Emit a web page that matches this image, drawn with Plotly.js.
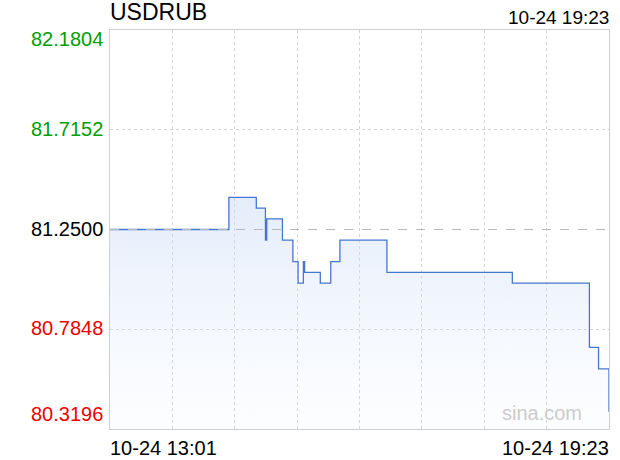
<!DOCTYPE html>
<html>
<head>
<meta charset="utf-8">
<script src="https://cdn.plot.ly/plotly-3.0.1.min.js"></script>
<style>html,body{margin:0;padding:0;background:#fff;}#chart{width:620px;height:460px;}</style>
</head>
<body>
<div id="chart"></div>
<script>
// ---- data ----
const symbol = 'USDRUB';
const dateStr = '2023-10-24';
const times = ['13:01','14:32','14:53','15:00','15:01','15:13','15:21','15:25','15:29','15:30','15:42','15:50','15:57','16:33','18:09','19:08','19:15','19:23'];
const values = [81.25,81.40,81.35,81.20,81.30,81.20,81.10,81.00,81.10,81.05,81.00,81.10,81.20,81.05,81.00,80.70,80.60,80.40];
const yTickVals = [82.1804, 81.7152, 81.2500, 80.7848, 80.3196];
const yTickLabels = ['82.1804', '81.7152', '81.2500', '80.7848', '80.3196'];
const baseValue = 81.25;
const xLabels = ['10-24 13:01', '10-24 19:23'];
const stampLabel = '10-24 19:23';
const watermark = 'sina.com';

// ---- build ----
const xs = times.map(t => dateStr + ' ' + t + ':00');
const xStart = new Date(xs[0].replace(' ', 'T')).getTime();
const xEnd = new Date(xs[xs.length - 1].replace(' ', 'T')).getTime();
function fmt(ms) {
  const d = new Date(ms);
  const p = n => String(n).padStart(2, '0');
  return d.getFullYear() + '-' + p(d.getMonth() + 1) + '-' + p(d.getDate()) + ' ' + p(d.getHours()) + ':' + p(d.getMinutes()) + ':' + p(d.getSeconds()) + '.' + String(d.getMilliseconds()).padStart(3, '0');
}
const xGrid = [];
for (let i = 1; i < 8; i++) xGrid.push(fmt(xStart + (xEnd - xStart) * i / 8));

const yMin = Math.min(...yTickVals), yMax = Math.max(...yTickVals);
const font = 'Liberation Sans, Arial, Helvetica, sans-serif';

const trace = {
  x: xs, y: values, type: 'scatter', mode: 'lines',
  line: {shape: 'hv', color: '#4677cf', width: 1.3},
  fill: 'tozeroy',
  fillgradient: {type: 'vertical', start: yMin, stop: Math.max(...values),
    colorscale: [[0, 'rgba(225,235,252,0.08)'], [1, 'rgba(200,218,246,0.5)']]},
  hoverinfo: 'skip'
};

const labelColors = yTickVals.map(v => v > baseValue + 1e-9 ? '#00a000' : (v < baseValue - 1e-9 ? '#ee0000' : '#000000'));
const annotations = yTickVals.map((v, i) => ({
  xref: 'paper', yref: 'y', x: 0, y: v, xanchor: 'right', yanchor: 'middle',
  xshift: -5, yshift: i === 0 ? -9 : (i === yTickVals.length - 1 ? 15 : 1),
  text: yTickLabels[i], showarrow: false,
  font: {family: font, size: 20, color: labelColors[i]}
}));
annotations.push(
  {xref: 'paper', yref: 'paper', x: 0, y: 1, xanchor: 'left', yanchor: 'bottom', yshift: 3, xshift: -2,
   text: symbol, showarrow: false, font: {family: font, size: 23, color: '#000'}},
  {xref: 'paper', yref: 'paper', x: 1, y: 1, xanchor: 'right', yanchor: 'bottom', yshift: 0, xshift: 2,
   text: stampLabel, showarrow: false, font: {family: font, size: 19, color: '#000'}},
  {xref: 'paper', yref: 'paper', x: 0, y: 0, xanchor: 'left', yanchor: 'top', yshift: -6, xshift: -2,
   text: xLabels[0], showarrow: false, font: {family: font, size: 20, color: '#000'}},
  {xref: 'paper', yref: 'paper', x: 1, y: 0, xanchor: 'right', yanchor: 'top', yshift: -6, xshift: 2,
   text: xLabels[1], showarrow: false, font: {family: font, size: 20, color: '#000'}},
  {xref: 'paper', yref: 'paper', x: 0.95, y: 0, xanchor: 'right', yanchor: 'bottom', yshift: 3,
   text: watermark, showarrow: false, font: {family: font, size: 20, color: '#cccccc'}}
);

const layout = {
  width: 620, height: 460,
  margin: {l: 110, r: 11, t: 30, b: 31, pad: 0},
  paper_bgcolor: '#fff', plot_bgcolor: '#fff',
  showlegend: false,
  xaxis: {type: 'date', range: [xs[0], xs[xs.length - 1]], tickmode: 'array', tickvals: xGrid,
    showticklabels: false, ticks: '', showgrid: true, gridcolor: '#d4d4d4', griddash: 'dot', gridwidth: 1,
    showline: true, mirror: true, linecolor: '#d0d0d0', linewidth: 1, zeroline: false, fixedrange: true},
  yaxis: {range: [yMin, yMax], tickmode: 'array', tickvals: yTickVals.filter(v => v !== baseValue),
    showticklabels: false, ticks: '', showgrid: true, gridcolor: '#d4d4d4', griddash: 'dot', gridwidth: 1,
    showline: true, mirror: true, linecolor: '#d0d0d0', linewidth: 1, zeroline: false, fixedrange: true},
  shapes: [{type: 'line', xref: 'paper', yref: 'y', x0: 0, x1: 1, y0: baseValue, y1: baseValue,
    line: {color: '#b8b8b8', width: 1, dash: 'dash'}, layer: 'above'}],
  annotations: annotations
};

Plotly.newPlot('chart', [trace], layout, {displayModeBar: false, staticPlot: true});
</script>
</body>
</html>
